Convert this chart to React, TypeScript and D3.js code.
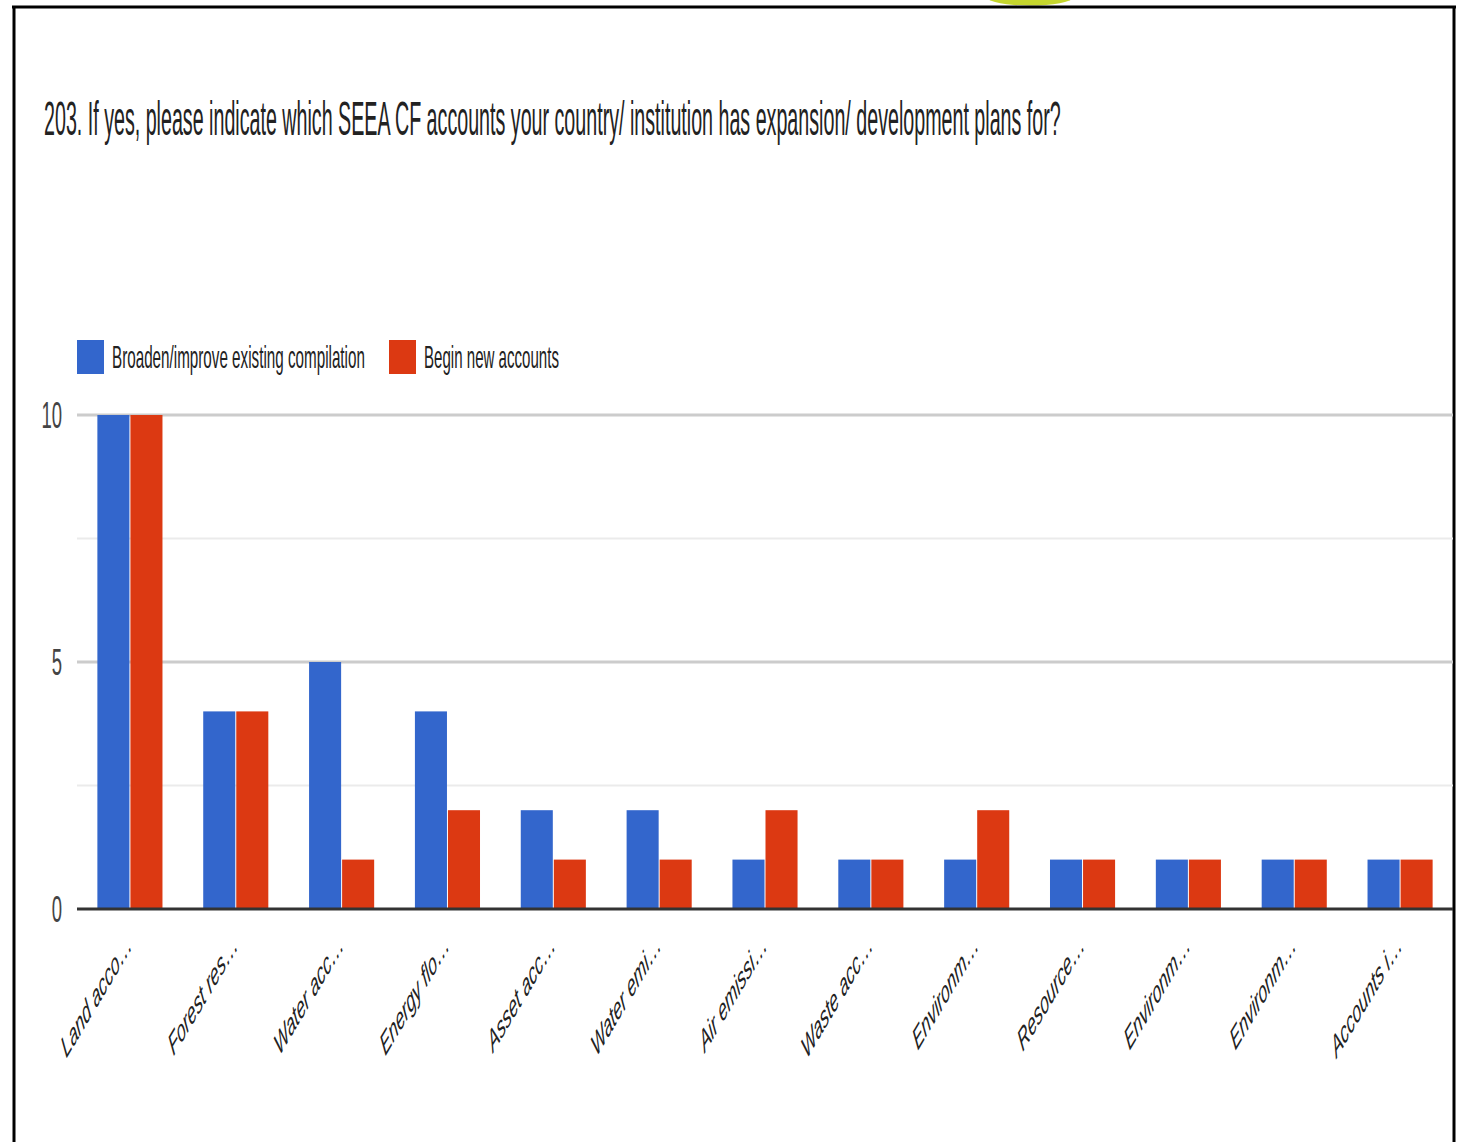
import React from "react";
import * as d3 from "d3";

const titleText =
  "203. If yes, please indicate which SEEA CF accounts your country/ institution has expansion/ development plans for?";
const categories = [
  "Land acco…",
  "Forest res…",
  "Water acc…",
  "Energy flo…",
  "Asset acc…",
  "Water emi…",
  "Air emissi…",
  "Waste acc…",
  "Environm…",
  "Resource…",
  "Environm… ",
  "Environm…  ",
  "Accounts i…",
];
const seriesNames = ["Broaden/improve existing compilation", "Begin new accounts"];
const broadenValues = [10, 4, 5, 4, 2, 2, 1, 1, 1, 1, 1, 1, 1];
const beginValues = [10, 4, 1, 2, 1, 1, 2, 1, 2, 1, 1, 1, 1];
const yTicks = [0, 5, 10];
const yGrid = [2.5, 5, 7.5, 10];

const colors = ["#3366cc", "#dc3912"];
const FONT = "'Liberation Sans', Arial, sans-serif";

function measure(text: string, size: number): number {
  try {
    const c = document.createElement("canvas");
    const ctx = c.getContext("2d");
    if (ctx) {
      ctx.font = `${size}px ${FONT}`;
      return ctx.measureText(text).width;
    }
  } catch (e) {}
  return text.length * size * 0.5;
}

export default function App() {
  const W = 1461;
  const H = 1142;
  const left = 77;
  const right = 1453;
  const y0 = 909;
  const y10 = 415;
  const sx = 0.5;

  const x = d3
    .scaleBand<string>()
    .domain(categories)
    .range([left, right])
    .paddingInner(0.385)
    .paddingOuter(0.1925);
  const inner = d3
    .scaleBand<string>()
    .domain(seriesNames)
    .range([0, x.bandwidth()])
    .paddingInner(0.03);
  const y = d3.scaleLinear().domain([0, 10]).range([y0, y10]);

  const series = [broadenValues, beginValues];

  const titleScale = 1018 / measure(titleText, 49);
  const legendWidths = [253, 135];

  return (
    <svg
      width={W}
      height={H}
      style={{ position: "absolute", left: 0, top: 0, background: "#fff" }}
      fontFamily={FONT}
    >
      <rect x={0} y={0} width={W} height={H} fill="#fff" />
      {/* yellow blob at top */}
      <ellipse cx={1030} cy={-2} rx={42} ry={7.5} fill="#c5d62e" />
      {/* frame */}
      <line x1={12} x2={1456} y1={7} y2={7} stroke="#000" strokeWidth={3} />
      <line x1={14} x2={14} y1={6} y2={H} stroke="#000" strokeWidth={3} />
      <line x1={1454} x2={1454} y1={6} y2={H} stroke="#000" strokeWidth={3} />

      {/* title */}
      <text
        transform={`translate(44,135) scale(${titleScale},1)`}
        fontSize={49}
        fill="#222"
      >
        {titleText}
      </text>

      {/* legend */}
      {seriesNames.map((name, i) => {
        const lx = i === 0 ? 77 : 389;
        const sc = legendWidths[i] / measure(name, 32);
        return (
          <g key={name}>
            <rect x={lx} y={340} width={27} height={34} fill={colors[i]} />
            <text
              transform={`translate(${lx + 35},368) scale(${sc},1)`}
              fontSize={32}
              fill="#222"
            >
              {name}
            </text>
          </g>
        );
      })}

      {/* gridlines */}
      {yGrid.map((v) => (
        <line
          key={v}
          x1={left}
          x2={right}
          y1={y(v)}
          y2={y(v)}
          stroke={v % 5 === 0 ? "#cccccc" : "#ebebeb"}
          strokeWidth={v % 5 === 0 ? 3 : 2}
        />
      ))}

      {/* y tick labels */}
      {yTicks.map((v) => (
        <text
          key={v}
          transform={`translate(62,${y(v) + 13}) scale(${sx},1)`}
          textAnchor="end"
          fontSize={37}
          fill="#444"
        >
          {v}
        </text>
      ))}

      {/* bars */}
      {categories.map((c, ci) => (
        <g key={c} transform={`translate(${x(c)},0)`}>
          {series.map((vals, si) => (
            <rect
              key={si}
              x={inner(seriesNames[si])}
              y={y(vals[ci])}
              width={inner.bandwidth()}
              height={y0 - y(vals[ci])}
              fill={colors[si]}
            />
          ))}
        </g>
      ))}

      {/* baseline */}
      <line x1={left} x2={right} y1={y0} y2={y0} stroke="#333" strokeWidth={3} />

      {/* x labels */}
      {categories.map((c) => {
        const cx = (x(c) as number) + x.bandwidth() / 2 + 3;
        return (
          <text
            key={c}
            transform={`translate(${cx},947) scale(${sx},1) rotate(-40)`}
            textAnchor="end"
            fontSize={31}
            fontStyle="italic"
            fill="#222"
          >
            {c.trim()}
          </text>
        );
      })}
    </svg>
  );
}
